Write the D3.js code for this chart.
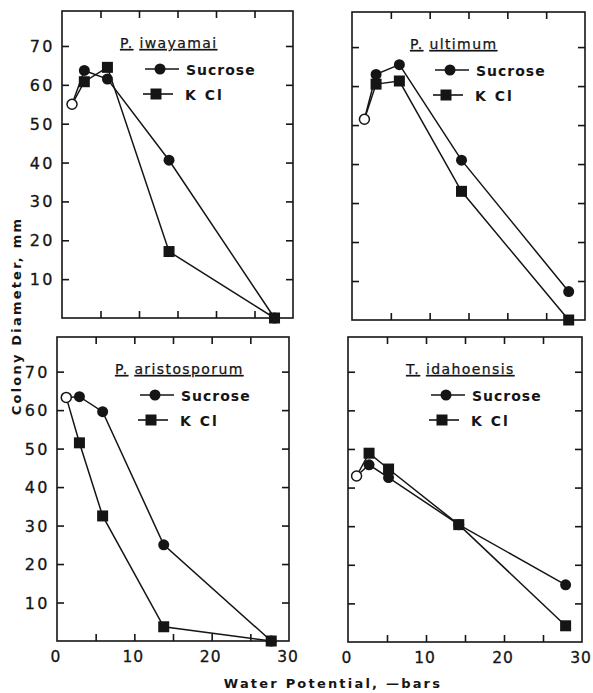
<!DOCTYPE html>
<html>
<head>
<meta charset="utf-8">
<script src="https://cdn.jsdelivr.net/npm/d3@7"></script>
<style>
  html, body { margin: 0; padding: 0; background: #ffffff; }
  svg { display: block; }
  text { fill: #151515; font-family: "DejaVu Sans", sans-serif; }
</style>
</head>
<body>
<script>
// ---- data ----
const speciesGenus = ["P.", "P.", "P.", "T."];
const speciesName = ["iwayamai", "ultimum", "aristosporum", "idahoensis"];
const seriesNames = ["Sucrose", "K Cl"];

// open circle = control (no osmoticum)
const controlX = [1.3, 1.6, 1.2, 1.1];
const controlY = [55, 51.5, 63.3, 43];

const sucroseX = [
  [2.9, 5.9, 13.9, 27.6],
  [3.1, 6.1, 14.1, 27.9],
  [2.9, 5.9, 13.8, 27.7],
  [2.7, 5.2, 14.2, 27.9]
];
const sucroseY = [
  [63.7, 61.5, 40.6, 0],
  [63, 65.5, 41, 7.3],
  [63.5, 59.6, 25, 0],
  [45.9, 42.6, 30.4, 14.8]
];
const kclX = [
  [2.9, 5.9, 13.9, 27.6],
  [3.1, 6.1, 14.1, 27.9],
  [2.9, 5.9, 13.8, 27.7],
  [2.7, 5.2, 14.2, 27.9]
];
const kclY = [
  [60.8, 64.5, 17.1, 0],
  [60.5, 61.3, 33, 0],
  [51.5, 32.5, 3.7, 0],
  [48.9, 44.8, 30.4, 4.2]
];

const yTickValues = [10, 20, 30, 40, 50, 60, 70];
const xTickMinor = [5, 10, 15, 20, 25];
const xTickLabels = [0, 10, 20, 30];
const yTitle = "Colony Diameter, mm";
const xTitle = "Water Potential, \u2014bars";

// ---- layout ----
const W = 593, H = 693;
const frames = [
  { x0: 62, x1: 293, y0: 11, y1: 318 },
  { x0: 352, x1: 585, y0: 12, y1: 320 },
  { x0: 57, x1: 289, y0: 337, y1: 641 },
  { x0: 348, x1: 582, y0: 337, y1: 642 }
];
const showYLabels = [true, false, true, false];
const showXLabels = [false, false, true, true];

const svg = d3.select("body").append("svg")
  .attr("width", W).attr("height", H);

const ink = "#151515";

frames.forEach((f, i) => {
  const x = d3.scaleLinear().domain([0, 30]).range([f.x0, f.x1]);
  const y = d3.scaleLinear().domain([0, 79]).range([f.y1, f.y0]);
  const g = svg.append("g");

  // frame
  g.append("rect")
    .attr("x", f.x0).attr("y", f.y0)
    .attr("width", f.x1 - f.x0).attr("height", f.y1 - f.y0)
    .attr("fill", "none").attr("stroke", ink).attr("stroke-width", 1.6);

  const tl = 7;
  // inward ticks: left & right (y), top & bottom (x)
  const axL = d3.axisRight(y).tickValues(yTickValues).tickSize(tl).tickFormat("");
  const axR = d3.axisLeft(y).tickValues(yTickValues).tickSize(tl).tickFormat("");
  const axT = d3.axisBottom(x).tickValues(xTickMinor).tickSize(tl).tickFormat("");
  const axB = d3.axisTop(x).tickValues(xTickMinor).tickSize(tl).tickFormat("");
  [[axL, `translate(${f.x0},0)`], [axR, `translate(${f.x1},0)`],
   [axT, `translate(0,${f.y0})`], [axB, `translate(0,${f.y1})`]].forEach(([ax, tr]) => {
    const a = g.append("g").attr("transform", tr).call(ax);
    a.select(".domain").remove();
    a.selectAll("line").attr("stroke", ink).attr("stroke-width", 1.6);
  });

  if (showYLabels[i]) {
    g.selectAll(".ylab").data(yTickValues).enter().append("text")
      .attr("x", f.x0 - 7).attr("y", d => y(d) + 6)
      .attr("text-anchor", "end")
      .attr("font-size", 16).attr("letter-spacing", 2.5)
      .attr("stroke", ink).attr("stroke-width", 0.3)
      .text(d => d);
  }
  if (showXLabels[i]) {
    g.selectAll(".xlab").data(xTickLabels).enter().append("text")
      .attr("x", d => x(d) - 1).attr("y", f.y1 + 21)
      .attr("text-anchor", "middle")
      .attr("font-size", 15.5).attr("letter-spacing", 1)
      .attr("stroke", ink).attr("stroke-width", 0.3)
      .text(d => d);
  }

  // title
  const t = g.append("text")
    .attr("x", f.x0 + 58).attr("y", f.y0 + 37)
    .attr("font-size", 14).attr("letter-spacing", 1.4)
    .attr("stroke", ink).attr("stroke-width", 0.25);
  t.append("tspan").style("text-decoration", "underline").text(speciesGenus[i]);
  t.append("tspan").text(" ");
  t.append("tspan").style("text-decoration", "underline").text(speciesName[i]);

  // legend
  const lgC = { cx: f.x0 + 98, cy: f.y0 + 58 };
  const lgS = { cx: f.x0 + 94, cy: f.y0 + 83 };
  g.append("line").attr("x1", lgC.cx - 15).attr("x2", lgC.cx + 19)
    .attr("y1", lgC.cy).attr("y2", lgC.cy).attr("stroke", ink).attr("stroke-width", 1.6);
  g.append("circle").attr("cx", lgC.cx).attr("cy", lgC.cy).attr("r", 5.5).attr("fill", ink);
  g.append("line").attr("x1", lgS.cx - 13).attr("x2", lgS.cx + 17)
    .attr("y1", lgS.cy).attr("y2", lgS.cy).attr("stroke", ink).attr("stroke-width", 1.6);
  g.append("rect").attr("x", lgS.cx - 5.5).attr("y", lgS.cy - 5.5)
    .attr("width", 11).attr("height", 11).attr("fill", ink);
  g.append("text").attr("x", f.x0 + 124).attr("y", lgC.cy + 5.5)
    .attr("font-size", 14).attr("font-weight", "bold").attr("letter-spacing", 1)
    .text(seriesNames[0]);
  g.append("text").attr("x", f.x0 + 123).attr("y", lgS.cy + 5.5)
    .attr("font-size", 14).attr("font-weight", "bold").attr("letter-spacing", 2)
    .attr("xml:space", "preserve")
    .text(seriesNames[1]);

  // series data
  const suc = [[controlX[i], controlY[i]]].concat(sucroseX[i].map((v, k) => [v, sucroseY[i][k]]));
  const kcl = [[controlX[i], controlY[i]]].concat(kclX[i].map((v, k) => [v, kclY[i][k]]));
  const line = d3.line().x(d => x(d[0])).y(d => y(d[1]));

  g.append("path").attr("d", line(suc)).attr("fill", "none")
    .attr("stroke", ink).attr("stroke-width", 1.5);
  g.append("path").attr("d", line(kcl)).attr("fill", "none")
    .attr("stroke", ink).attr("stroke-width", 1.5);

  g.selectAll(".sq").data(kcl.slice(1)).enter().append("rect")
    .attr("x", d => x(d[0]) - 5.5).attr("y", d => y(d[1]) - 5.5)
    .attr("width", 11).attr("height", 11).attr("fill", ink);
  g.selectAll(".ci").data(suc.slice(1)).enter().append("circle")
    .attr("cx", d => x(d[0])).attr("cy", d => y(d[1])).attr("r", 5.5)
    .attr("fill", ink);

  g.append("circle").attr("cx", x(controlX[i])).attr("cy", y(controlY[i]))
    .attr("r", 5).attr("fill", "#fff").attr("stroke", ink).attr("stroke-width", 1.5);
});

// axis titles
svg.append("text")
  .attr("transform", `translate(21,316) rotate(-90)`)
  .attr("text-anchor", "middle")
  .attr("font-size", 13).attr("font-weight", "bold").attr("letter-spacing", 2.2)
  .text(yTitle);

svg.append("text")
  .attr("x", 333).attr("y", 688)
  .attr("text-anchor", "middle")
  .attr("font-size", 13).attr("font-weight", "bold").attr("letter-spacing", 2.2)
  .text(xTitle);
</script>
</body>
</html>
